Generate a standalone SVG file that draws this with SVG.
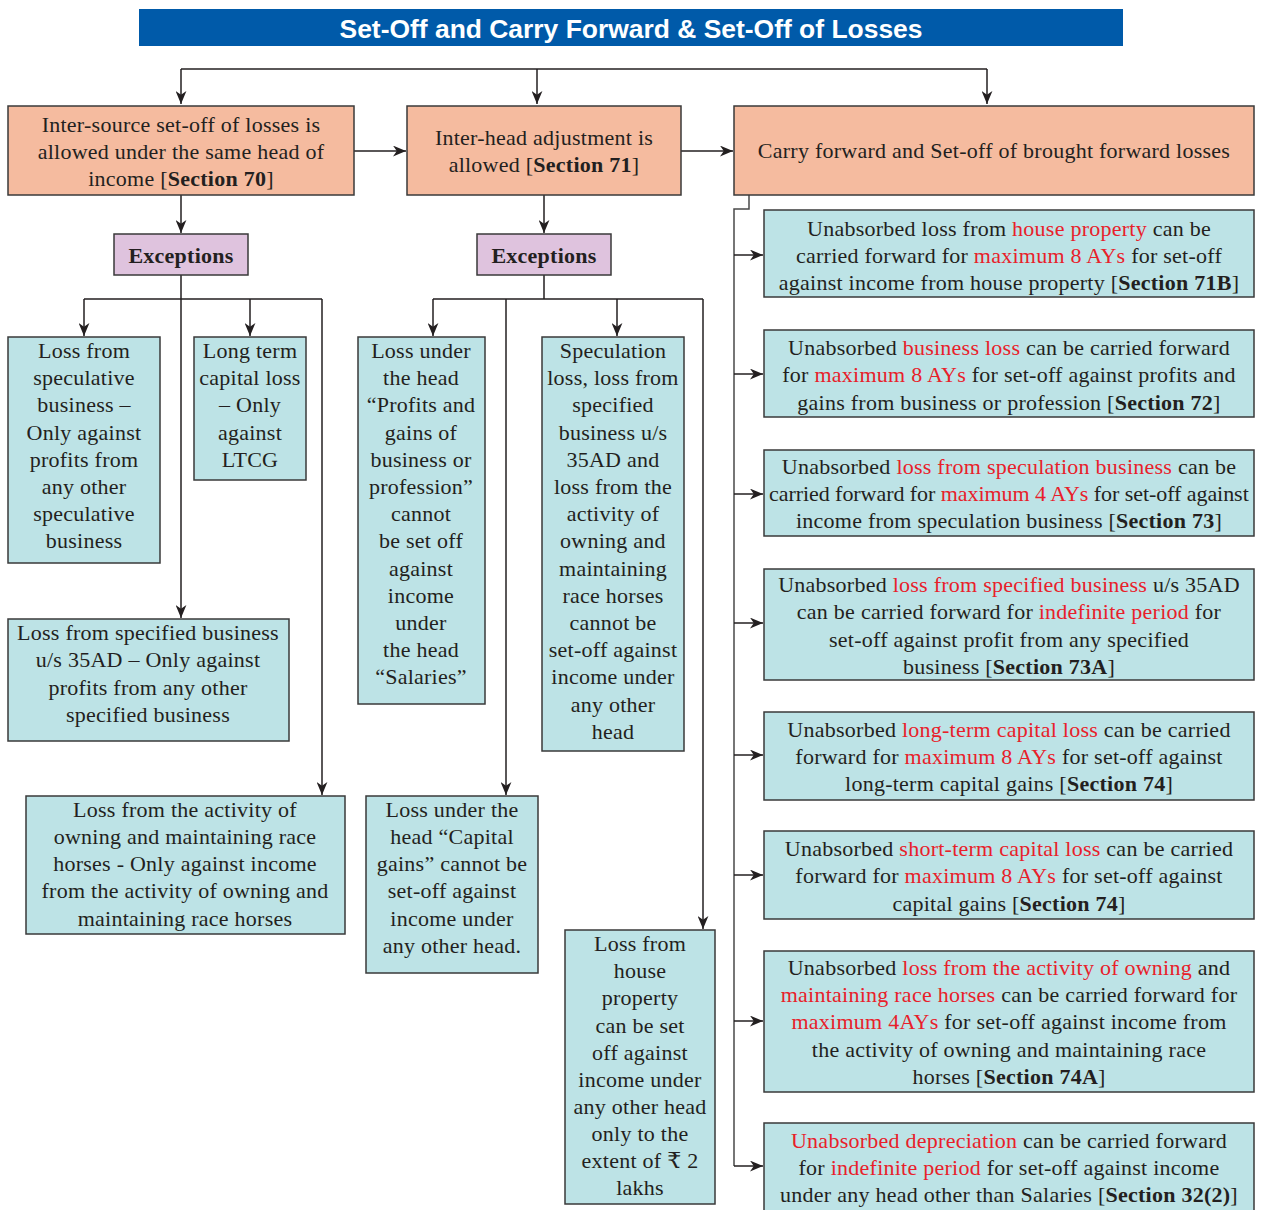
<svg xmlns="http://www.w3.org/2000/svg" width="1266" height="1210" viewBox="0 0 1266 1210">
<defs>
<marker id="ah" viewBox="0 0 12 10" refX="12" refY="5" markerWidth="13" markerHeight="11" markerUnits="userSpaceOnUse" orient="auto">
<path d="M0,0 L12,5 L0,10 L3.5,5 z" fill="#231F20"/>
</marker>
<style>
.t{font-family:"Liberation Serif","DejaVu Serif",serif;font-size:22px;letter-spacing:0.25px;fill:#231F20;text-anchor:middle}
.b{font-weight:bold}
.r{fill:#E8202A}
.salmon{fill:#F5BB9F;stroke:#3a3a3a;stroke-width:1.5}
.exc{fill:#DFC3DE;stroke:#3a3a3a;stroke-width:1.5}
.teal{fill:#BDE3E6;stroke:#3a3a3a;stroke-width:1.5}
.c{fill:none;stroke:#231F20;stroke-width:1.5}
.ca{fill:none;stroke:#231F20;stroke-width:1.5;marker-end:url(#ah)}
</style>
</defs>
<rect width="1266" height="1210" fill="#ffffff"/>

<g id="title">
<rect x="139" y="9" width="984" height="37" fill="#005AA9"/>
<text x="631" y="38" font-family="Liberation Sans, Arial, sans-serif" font-weight="bold" font-size="25" fill="#ffffff" text-anchor="middle" textLength="583" lengthAdjust="spacingAndGlyphs">Set-Off and Carry Forward &amp; Set-Off of Losses</text>
</g>

<g id="connectors">
<path class="c" d="M181,69 H987"/>
<path class="ca" d="M181,69 V104"/>
<path class="ca" d="M537,69 V104"/>
<path class="ca" d="M987,69 V104"/>
<path class="ca" d="M354,151 H406"/>
<path class="ca" d="M681,151 H733"/>
<path class="ca" d="M181,195 V233"/>
<path class="ca" d="M544,195 V233"/>
<path class="c" d="M181,275 V299 M84,299 H322"/>
<path class="ca" d="M84,299 V336"/>
<path class="ca" d="M250,299 V336"/>
<path class="ca" d="M181,299 V618"/>
<path class="ca" d="M322,299 V795"/>
<path class="c" d="M544,275 V299 M433,299 H703"/>
<path class="ca" d="M433,299 V336"/>
<path class="ca" d="M617,299 V336"/>
<path class="ca" d="M506,299 V795"/>
<path class="ca" d="M703,299 V929"/>
<path class="c" d="M749,195 V209 H734 V1166" stroke-width="2" style="stroke:#4a4a4a"/>
<path class="ca" d="M734,255 H763"/>
<path class="ca" d="M734,374 H763"/>
<path class="ca" d="M734,494 H763"/>
<path class="ca" d="M734,623 H763"/>
<path class="ca" d="M734,755 H763"/>
<path class="ca" d="M734,875 H763"/>
<path class="ca" d="M734,1021 H763"/>
<path class="ca" d="M734,1166 H763"/>
</g>

<g id="n-sec70">
<rect class="salmon" x="8" y="106" width="346" height="89"/>
<text class="t"><tspan x="181" y="132">Inter-source set-off of losses is</tspan><tspan x="181" y="159">allowed under the same head of</tspan><tspan x="181" y="186">income [<tspan class="b">Section 70</tspan>]</tspan></text>
</g>
<g id="n-sec71">
<rect class="salmon" x="407" y="106" width="274" height="89"/>
<text class="t"><tspan x="544" y="145">Inter-head adjustment is</tspan><tspan x="544" y="172">allowed [<tspan class="b">Section 71</tspan>]</tspan></text>
</g>
<g id="n-carry">
<rect class="salmon" x="734" y="106" width="520" height="89"/>
<text class="t"><tspan x="994" y="158">Carry forward and Set-off of brought forward losses</tspan></text>
</g>

<g id="n-exc1">
<rect class="exc" x="114" y="234" width="134" height="41"/>
<text class="t b" x="181" y="263">Exceptions</text>
</g>
<g id="n-exc2">
<rect class="exc" x="477" y="234" width="134" height="41"/>
<text class="t b" x="544" y="263">Exceptions</text>
</g>

<g id="n-spec">
<rect class="teal" x="8" y="337" width="152" height="226"/>
<text class="t"><tspan x="84" y="358">Loss from</tspan><tspan x="84" y="385">speculative</tspan><tspan x="84" y="412">business –</tspan><tspan x="84" y="440">Only against</tspan><tspan x="84" y="467">profits from</tspan><tspan x="84" y="494">any other</tspan><tspan x="84" y="521">speculative</tspan><tspan x="84" y="548">business</tspan></text>
</g>
<g id="n-ltcl">
<rect class="teal" x="194" y="337" width="112" height="143"/>
<text class="t"><tspan x="250" y="358">Long term</tspan><tspan x="250" y="385">capital loss</tspan><tspan x="250" y="412">– Only</tspan><tspan x="250" y="440">against</tspan><tspan x="250" y="467">LTCG</tspan></text>
</g>
<g id="n-35ad">
<rect class="teal" x="8" y="619" width="281" height="122"/>
<text class="t"><tspan x="148" y="640">Loss from specified business</tspan><tspan x="148" y="667">u/s 35AD – Only against</tspan><tspan x="148" y="695">profits from any other</tspan><tspan x="148" y="722">specified business</tspan></text>
</g>
<g id="n-race">
<rect class="teal" x="26" y="796" width="319" height="138"/>
<text class="t"><tspan x="185" y="817">Loss from the activity of</tspan><tspan x="185" y="844">owning and maintaining race</tspan><tspan x="185" y="871">horses - Only against income</tspan><tspan x="185" y="898">from the activity of owning and</tspan><tspan x="185" y="926">maintaining race horses</tspan></text>
</g>

<g id="n-pgbp">
<rect class="teal" x="358" y="337" width="127" height="367"/>
<text class="t"><tspan x="421" y="358">Loss under</tspan><tspan x="421" y="385">the head</tspan><tspan x="421" y="412">“Profits and</tspan><tspan x="421" y="440">gains of</tspan><tspan x="421" y="467">business or</tspan><tspan x="421" y="494">profession”</tspan><tspan x="421" y="521">cannot</tspan><tspan x="421" y="548">be set off</tspan><tspan x="421" y="576">against</tspan><tspan x="421" y="603">income</tspan><tspan x="421" y="630">under</tspan><tspan x="421" y="657">the head</tspan><tspan x="421" y="684">“Salaries”</tspan></text>
</g>
<g id="n-speculation">
<rect class="teal" x="542" y="337" width="142" height="414"/>
<text class="t"><tspan x="613" y="358">Speculation</tspan><tspan x="613" y="385">loss, loss from</tspan><tspan x="613" y="412">specified</tspan><tspan x="613" y="440">business u/s</tspan><tspan x="613" y="467">35AD and</tspan><tspan x="613" y="494">loss from the</tspan><tspan x="613" y="521">activity of</tspan><tspan x="613" y="548">owning and</tspan><tspan x="613" y="576">maintaining</tspan><tspan x="613" y="603">race horses</tspan><tspan x="613" y="630">cannot be</tspan><tspan x="613" y="657">set-off against</tspan><tspan x="613" y="684">income under</tspan><tspan x="613" y="712">any other</tspan><tspan x="613" y="739">head</tspan></text>
</g>
<g id="n-capgains">
<rect class="teal" x="366" y="796" width="172" height="177"/>
<text class="t"><tspan x="452" y="817">Loss under the</tspan><tspan x="452" y="844">head “Capital</tspan><tspan x="452" y="871">gains” cannot be</tspan><tspan x="452" y="898">set-off against</tspan><tspan x="452" y="926">income under</tspan><tspan x="452" y="953">any other head.</tspan></text>
</g>
<g id="n-hp">
<rect class="teal" x="565" y="930" width="150" height="274"/>
<text class="t"><tspan x="640" y="951">Loss from</tspan><tspan x="640" y="978">house</tspan><tspan x="640" y="1005">property</tspan><tspan x="640" y="1033">can be set</tspan><tspan x="640" y="1060">off against</tspan><tspan x="640" y="1087">income under</tspan><tspan x="640" y="1114">any other head</tspan><tspan x="640" y="1141">only to the</tspan><tspan x="640" y="1168">extent of ₹ 2</tspan><tspan x="640" y="1195">lakhs</tspan></text>
</g>

<g id="n-71b">
<rect class="teal" x="764" y="210" width="490" height="87"/>
<text class="t"><tspan x="1009" y="236">Unabsorbed loss from <tspan class="r">house property</tspan> can be</tspan><tspan x="1009" y="263">carried forward for <tspan class="r">maximum 8 AYs</tspan> for set-off</tspan><tspan x="1009" y="290">against income from house property [<tspan class="b">Section 71B</tspan>]</tspan></text>
</g>
<g id="n-72">
<rect class="teal" x="764" y="330" width="490" height="87"/>
<text class="t"><tspan x="1009" y="355">Unabsorbed <tspan class="r">business loss</tspan> can be carried forward</tspan><tspan x="1009" y="382">for <tspan class="r">maximum 8 AYs</tspan> for set-off against profits and</tspan><tspan x="1009" y="410">gains from business or profession [<tspan class="b">Section 72</tspan>]</tspan></text>
</g>
<g id="n-73">
<rect class="teal" x="764" y="450" width="490" height="86"/>
<text class="t"><tspan x="1009" y="474">Unabsorbed <tspan class="r">loss from speculation business</tspan> can be</tspan><tspan x="1009" y="501" textLength="480" lengthAdjust="spacing">carried forward for <tspan class="r">maximum 4 AYs</tspan> for set-off against</tspan><tspan x="1009" y="528">income from speculation business [<tspan class="b">Section 73</tspan>]</tspan></text>
</g>
<g id="n-73a">
<rect class="teal" x="764" y="569" width="490" height="111"/>
<text class="t"><tspan x="1009" y="592">Unabsorbed <tspan class="r">loss from specified business</tspan> u/s 35AD</tspan><tspan x="1009" y="619">can be carried forward for <tspan class="r">indefinite period</tspan> for</tspan><tspan x="1009" y="647">set-off against profit from any specified</tspan><tspan x="1009" y="674">business [<tspan class="b">Section 73A</tspan>]</tspan></text>
</g>
<g id="n-74l">
<rect class="teal" x="764" y="712" width="490" height="88"/>
<text class="t"><tspan x="1009" y="737">Unabsorbed <tspan class="r">long-term capital loss</tspan> can be carried</tspan><tspan x="1009" y="764">forward for <tspan class="r">maximum 8 AYs</tspan> for set-off against</tspan><tspan x="1009" y="791">long-term capital gains [<tspan class="b">Section 74</tspan>]</tspan></text>
</g>
<g id="n-74s">
<rect class="teal" x="764" y="831" width="490" height="88"/>
<text class="t"><tspan x="1009" y="856">Unabsorbed <tspan class="r">short-term capital loss</tspan> can be carried</tspan><tspan x="1009" y="883">forward for <tspan class="r">maximum 8 AYs</tspan> for set-off against</tspan><tspan x="1009" y="911">capital gains [<tspan class="b">Section 74</tspan>]</tspan></text>
</g>
<g id="n-74a">
<rect class="teal" x="764" y="951" width="490" height="141"/>
<text class="t"><tspan x="1009" y="975">Unabsorbed <tspan class="r">loss from the activity of owning</tspan> and</tspan><tspan x="1009" y="1002"><tspan class="r">maintaining race horses</tspan> can be carried forward for</tspan><tspan x="1009" y="1029"><tspan class="r">maximum 4AYs</tspan> for set-off against income from</tspan><tspan x="1009" y="1057">the activity of owning and maintaining race</tspan><tspan x="1009" y="1084">horses [<tspan class="b">Section 74A</tspan>]</tspan></text>
</g>
<g id="n-32">
<rect class="teal" x="764" y="1123" width="490" height="92"/>
<text class="t"><tspan x="1009" y="1148"><tspan class="r">Unabsorbed depreciation</tspan> can be carried forward</tspan><tspan x="1009" y="1175">for <tspan class="r">indefinite period</tspan> for set-off against income</tspan><tspan x="1009" y="1202">under any head other than Salaries [<tspan class="b">Section 32(2)</tspan>]</tspan></text>
</g>
</svg>
